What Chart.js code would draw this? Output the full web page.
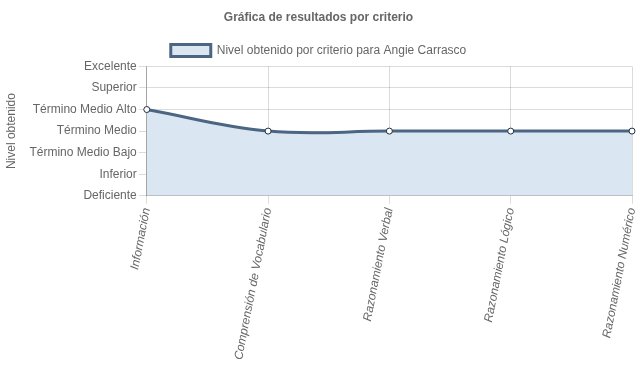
<!DOCTYPE html>
<html>
<head>
<meta charset="utf-8">
<script src="https://cdn.jsdelivr.net/npm/chart.js@4/dist/chart.umd.min.js"></script>
<style>
  html, body { margin: 0; padding: 0; background: #fff; }
  #wrap { width: 637px; height: 389px; position: relative; }
</style>
</head>
<body>
<div id="wrap"><canvas id="chart"></canvas></div>
<script>
// categories on the x axis
const criterios = ["Información", "Comprensión de Vocabulario", "Razonamiento Verbal", "Razonamiento Lógico", "Razonamiento Numérico"];
// level names, index = value
const niveles = ["Deficiente", "Inferior", "Término Medio Bajo", "Término Medio", "Término Medio Alto", "Superior", "Excelente"];
// obtained level per criterion
const resultados = [4, 3, 3, 3, 3];

document.addEventListener("DOMContentLoaded", () => {
  const ctx = document.getElementById("chart").getContext("2d");
  Chart.defaults.font.family = "'Liberation Sans', Arial, Helvetica, sans-serif";
  Chart.defaults.font.size = 12;
  Chart.defaults.color = "#666";

  new Chart(ctx, {
    type: "line",
    data: {
      labels: criterios,
      datasets: [{
        label: "Nivel obtenido por criterio para Angie Carrasco",
        data: resultados,
        borderColor: "#4b6582",
        backgroundColor: "rgba(218,230,242,1)",
        borderWidth: 3,
        fill: true,
        tension: 0.4,
        pointRadius: 3,
        pointBorderWidth: 1,
        pointBackgroundColor: "#fff",
        pointBorderColor: "#1f2f40"
      }]
    },
    options: {
      responsive: true,
      maintainAspectRatio: false,
      animation: false,
      layout: { padding: { right: 0, bottom: 25 } },
      plugins: {
        title: {
          display: true,
          text: "Gráfica de resultados por criterio",
          font: { weight: "bold", size: 12 },
          padding: { top: 10, bottom: 10 }
        },
        legend: {
          labels: { boxWidth: 40, boxHeight: 12, padding: 10 }
        },
        tooltip: { enabled: false }
      },
      scales: {
        x: {
          grid: { color: "rgba(0,0,0,0.14)", tickLength: 8 },
          border: { color: "rgba(0,0,0,0.25)" },
          ticks: { minRotation: 79, maxRotation: 79, font: { style: "italic" } },
          // last rotated label should not push the plot away from the right edge
          afterFit: s => { s.paddingRight = 4; }
        },
        y: {
          min: 0,
          max: 6,
          grid: { color: "rgba(0,0,0,0.14)", tickLength: 8 },
          border: { color: "rgba(0,0,0,0.25)" },
          ticks: {
            stepSize: 1,
            padding: 2,
            callback: v => niveles[v]
          },
          title: { display: true, text: "Nivel obtenido", padding: { top: 4, bottom: 9 } }
        }
      }
    }
  });
});
</script>
</body>
</html>
